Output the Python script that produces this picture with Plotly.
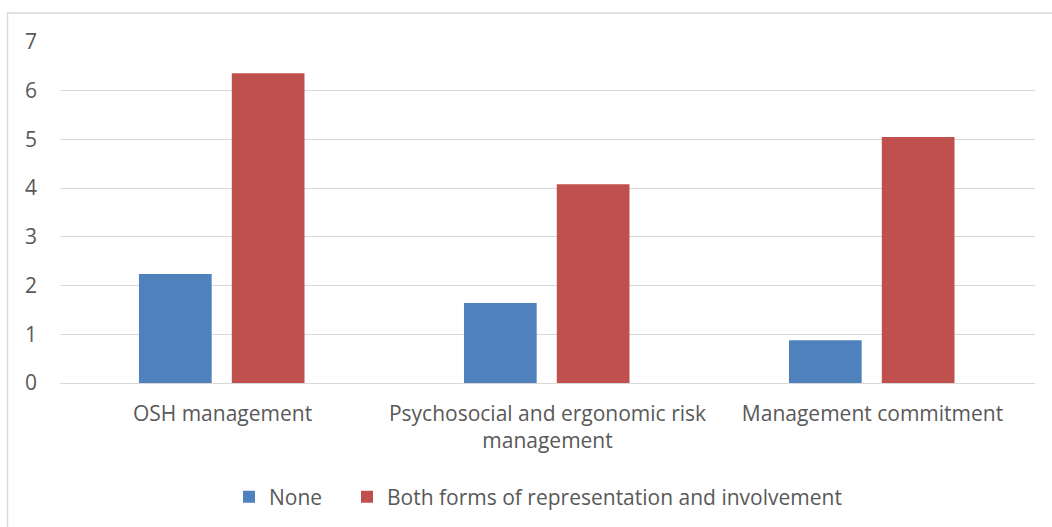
import plotly.graph_objects as go

categories = ["OSH management", "Psychosocial and ergonomic risk<br>management", "Management commitment"]
series_names = ["None", "Both forms of representation and involvement"]
none_values = [2.24, 1.64, 0.88]
both_values = [6.36, 4.08, 5.05]
y_ticks = [0, 1, 2, 3, 4, 5, 6, 7]

FONT = "Open Sans"
FS = 21
TXT = "#595959"
GRID = "#d9d9d9"

fig = go.Figure()
fig.add_trace(go.Bar(x=categories, y=none_values, name=series_names[0],
                     marker=dict(color="#4f81bd", line=dict(width=0)),
                     width=0.2237, offset=-0.257, legend="legend"))
fig.add_trace(go.Bar(x=categories, y=both_values, name=series_names[1],
                     marker=dict(color="#c0504d", line=dict(width=0)),
                     width=0.2237, offset=0.0286, legend="legend2"))

W, H = 1052, 527
l, r, t, b = 60, 17, 42, 144
pw, ph = W - l - r, H - t - b

def px_x(x):
    return (x - l) / pw

def px_y(y):
    return (H - b - y) / ph

leg_common = dict(orientation="h", xanchor="left", y=px_y(497), yanchor="middle",
                  font=dict(family=FONT, size=FS, color=TXT), itemwidth=30,
                  bgcolor="rgba(0,0,0,0)")

fig.update_layout(
    width=W, height=H,
    margin=dict(l=l, r=r, t=t, b=b, autoexpand=False),
    paper_bgcolor="white", plot_bgcolor="white",
    font=dict(family=FONT, size=FS, color=TXT),
    barmode="group",
    showlegend=True,
    legend=dict(x=px_x(229), **leg_common),
    legend2=dict(x=px_x(347), **leg_common),
    xaxis=dict(showgrid=False, showline=False, ticks="", tickfont=dict(size=FS, color=TXT),
               range=[-0.5, 2.5], ticklabelstandoff=16),
    yaxis=dict(range=[0, 7], tickvals=y_ticks, showgrid=True, gridcolor=GRID, gridwidth=1.3,
               zeroline=True, zerolinecolor=GRID, zerolinewidth=1.3, showline=False,
               ticks="", ticklabelstandoff=22,
               tickfont=dict(size=FS, color=TXT)),
    shapes=[
        dict(type="line", xref="paper", yref="paper", x0=px_x(7), x1=px_x(1060), y0=px_y(13), y1=px_y(13),
             line=dict(color=GRID, width=1.5)),
        dict(type="line", xref="paper", yref="paper", x0=px_x(7.5), x1=px_x(7.5), y0=px_y(13), y1=px_y(540),
             line=dict(color=GRID, width=1.5)),
    ],
)

fig.write_html("out.html", config={"displayModeBar": False},
               post_script="document.body.style.margin='0px';document.body.style.overflow='hidden';")
